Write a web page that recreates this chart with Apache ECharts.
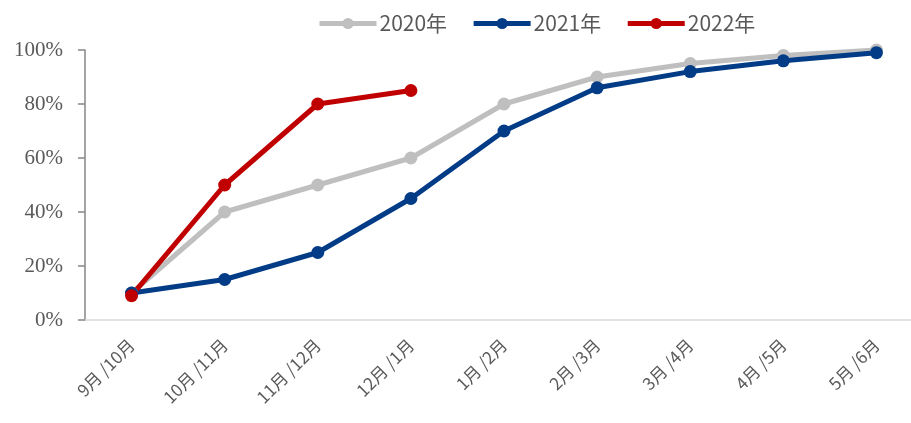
<!DOCTYPE html>
<html>
<head>
<meta charset="utf-8">
<script src="https://cdn.jsdelivr.net/npm/echarts@6/dist/echarts.min.js"></script>
<style>
  html, body { margin: 0; padding: 0; background: #fff; }
  #chart { width: 911px; height: 423px; }
</style>
</head>
<body>
<div id="chart"></div>
<script>
// 横轴类别
var categories = ['9月 /10月', '10月 /11月', '11月 /12月', '12月 /1月', '1月 /2月', '2月 /3月', '3月 /4月', '4月 /5月', '5月 /6月'];
// 各年度进度（%）
var data2020 = [10, 40, 50, 60, 80, 90, 95, 98, 100];
var data2021 = [10, 15, 25, 45, 70, 86, 92, 96, 99];
var data2022 = [9, 50, 80, 85];
var yTicks = [0, 20, 40, 60, 80, 100];

var dom = document.getElementById('chart');
var myChart = echarts.init(dom);

function mkSeries(name, data, color) {
    return {
        name: name,
        type: 'line',
        data: data,
        symbol: 'circle',
        symbolSize: 13,
        lineStyle: { width: 5, color: color },
        itemStyle: { color: color },
        animation: false
    };
}

var option = {
    legend: {
        top: 8,
        left: 312,
        itemWidth: 57,
        itemHeight: 14,
        itemGap: 24,
        lineStyle: { width: 5 },
        textStyle: { fontSize: 21, color: '#595959', fontFamily: 'Noto Sans CJK SC', padding: [0, 0, 0, -2] },
        data: ['2020年', '2021年', '2022年']
    },
    grid: { left: 85, width: 838, top: 50, bottom: 103, outerBoundsMode: 'none', containLabel: false },
    xAxis: {
        type: 'category',
        data: categories,
        axisLine: { lineStyle: { color: '#d9d9d9', width: 1.5 } },
        axisTick: { show: false },
        axisLabel: {
            rotate: 45,
            interval: 0,
            margin: 22,
            fontSize: 17,
            color: '#595959',
            fontFamily: 'Noto Sans CJK SC'
        }
    },
    yAxis: {
        type: 'value',
        min: yTicks[0],
        max: yTicks[yTicks.length - 1],
        interval: 20,
        axisLine: { show: true, lineStyle: { color: '#868686', width: 1.5 } },
        axisTick: { show: true, inside: false, length: 7, lineStyle: { color: '#868686', width: 1.5 } },
        splitLine: { show: false },
        axisLabel: {
            formatter: '{value}%',
            fontSize: 21,
            margin: 22,
            color: '#595959',
            fontFamily: 'Liberation Serif'
        }
    },
    series: [
        mkSeries('2020年', data2020, '#bfbfbf'),
        mkSeries('2021年', data2021, '#023b86'),
        mkSeries('2022年', data2022, '#c00000')
    ]
};

myChart.setOption(option, true);
</script>
</body>
</html>
